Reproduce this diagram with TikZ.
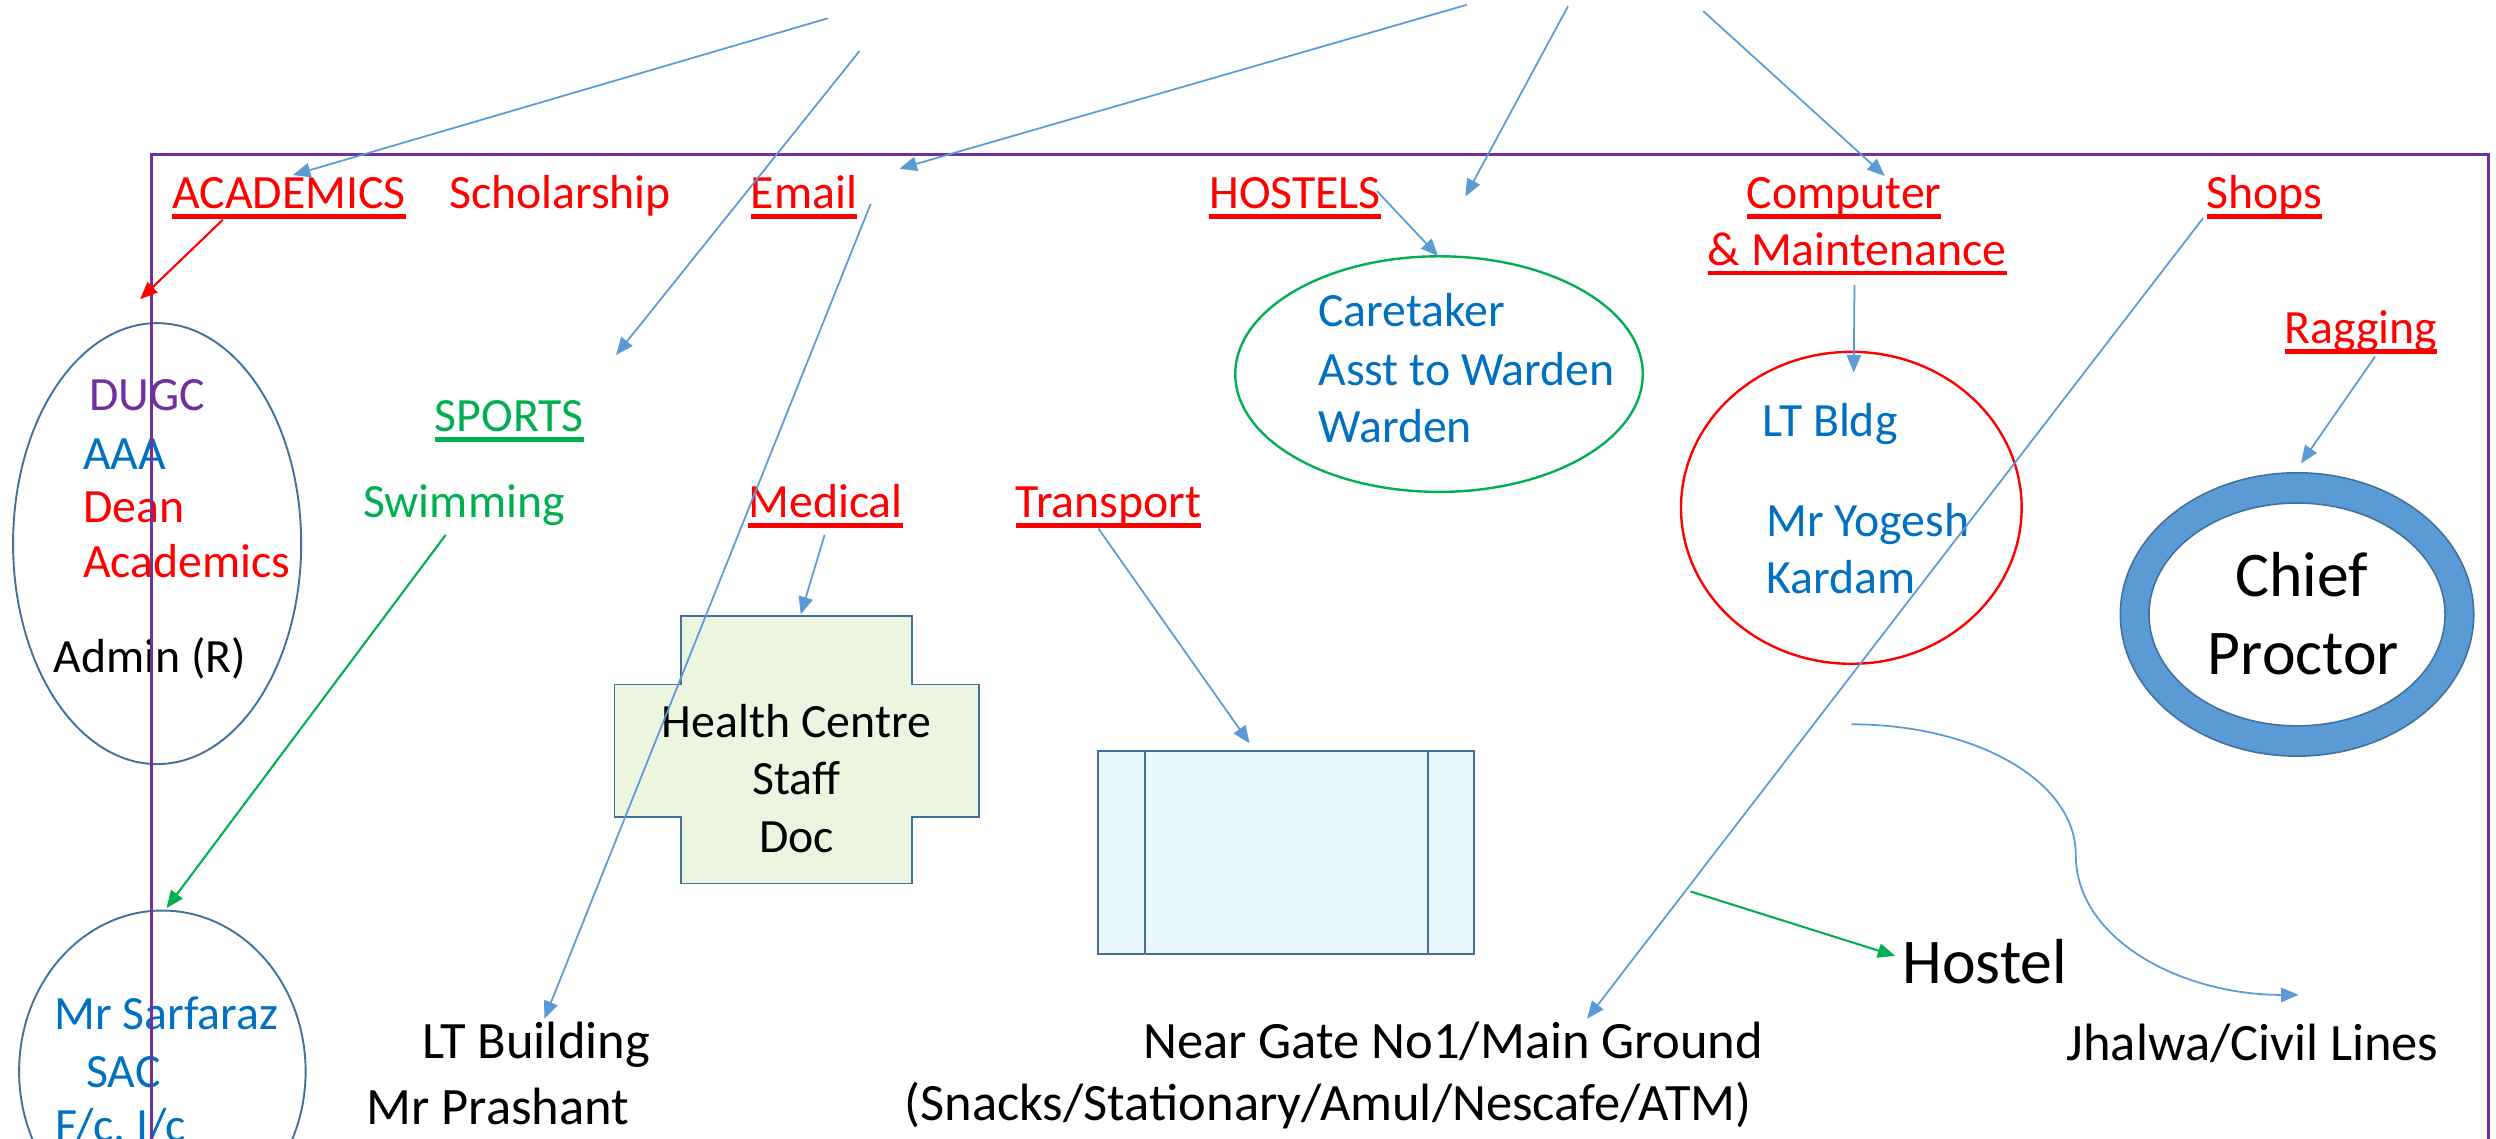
\documentclass[tikz,border=0pt]{standalone}
\usepackage{fontspec}
\setmainfont{Carlito}
\usetikzlibrary{shapes.geometric,arrows.meta}
\definecolor{cred}{HTML}{FF0000}
\definecolor{cblue}{HTML}{0070C0}
\definecolor{cpurple}{HTML}{7030A0}
\definecolor{cgreen}{HTML}{00B050}
\definecolor{carrow}{HTML}{5B9BD5}
\definecolor{cedge}{HTML}{41719C}
\definecolor{ccross}{HTML}{EBF5E0}
\definecolor{crect}{HTML}{EAF8FD}
\newcommand\myul[1]{\setbox0\hbox{#1}\rlap{\rule[-6.5pt]{\wd0}{3pt}}\box0}
\begin{document}
\begin{tikzpicture}[x=1pt,y=-1pt,
  lbl/.style={anchor=base west,inner sep=0pt,font=\fontsize{30}{36}\selectfont},
  lblc/.style={anchor=base,inner sep=0pt,font=\fontsize{30}{36}\selectfont},
  bigl/.style={anchor=base west,inner sep=0pt,font=\fontsize{33}{40}\selectfont},
  hugel/.style={anchor=base,inner sep=0pt,font=\fontsize{40}{48}\selectfont},
  arr/.style={draw=carrow,line width=1.1pt,-{Triangle[length=11pt,width=9pt]}},
  garr/.style={draw=cgreen,line width=1.3pt,-{Triangle[length=11pt,width=9pt]}},
  rarr/.style={draw=cred,line width=1.3pt,-{Triangle[length=11pt,width=9pt]}},
  oval/.style={ellipse,draw=cedge,line width=1.2pt,inner sep=0pt}]
\useasboundingbox (0,0) rectangle (1568,715);
\clip (0,0) rectangle (1568,715);

% ellipses
\node[oval,minimum width=181pt,minimum height=277pt] (acad) at (98.7,341.5) {};
\node[oval,minimum width=180pt,minimum height=202pt] (sac) at (102,673) {};
\node[ellipse,draw=cgreen,line width=1.5pt,inner sep=0pt,minimum width=256pt,minimum height=148pt] (hostel) at (904,235) {};
\node[ellipse,draw=cred,line width=1.5pt,inner sep=0pt,minimum width=214pt,minimum height=196pt] (comp) at (1163,319) {};
\node[ellipse,draw=cedge,fill=carrow,line width=1pt,inner sep=0pt,minimum width=222pt,minimum height=178pt] (cpout) at (1443,386) {};
\node[ellipse,draw=cedge,fill=white,line width=1pt,inner sep=0pt,minimum width=186pt,minimum height=140pt] (cpin) at (1443,386) {};

% health centre cross
\draw[cedge,fill=ccross,line width=1.2pt] (428,387) -- (573,387) -- (573,430) -- (615,430) -- (615,513) -- (573,513) -- (573,555) -- (428,555) -- (428,513) -- (386,513) -- (386,430) -- (428,430) -- cycle;
% transport box
\draw[cedge,fill=crect,line width=1.2pt] (690,471.5) rectangle (926,599.5);
\draw[cedge,line width=1.2pt] (719,471.5) -- (719,599.5) (897,471.5) -- (897,599.5);

% top labels
\node[lbl,text=cred] (acadl) at (108,131) {\myul{ACADEMICS}};
\node[lbl,text=cred] (schol) at (282,131) {Scholarship};
\node[lbl,text=cred] (email) at (471.5,131) {\myul{Email}};
\node[lbl,text=cred] (hostl) at (759.5,131) {\myul{HOSTELS}};
\node[lbl,text=cred] (compl) at (1097,131) {\myul{Computer}};
\node[lbl,text=cred] (maintl) at (1072.6,166.5) {\myul{\& Maintenance}};
\node[lbl,text=cred] (shopsl) at (1386,131) {\myul{Shops}};
\node[lbl,text=cred] (ragl) at (1435,216) {\myul{Ragging}};
\node[lbl,text=cgreen] (sportsl) at (273,271) {\myul{SPORTS}};
\node[lbl,text=cgreen] (swiml) at (228,325) {Swimming};
\node[lbl,text=cred] (medl) at (470,325) {\myul{Medical}};
\node[lbl,text=cred] (transl) at (638,325) {\myul{Transport}};

% academics ellipse text
\node[lbl,text=cpurple] (dugc) at (56,258) {DUGC};
\node[lbl,text=cblue] (aaa) at (52,295) {AAA};
\node[lbl,text=cred] (dean) at (52,328) {Dean};
\node[lbl,text=cred] (acads) at (52,363) {Academics};
\node[lbl,text=black] (admin) at (33.5,422.5) {Admin (R)};

% hostel ellipse text
\node[lbl,text=cblue] (care) at (828,205) {Caretaker};
\node[lbl,text=cblue] (asst) at (828,242) {Asst to Warden};
\node[lbl,text=cblue] (ward) at (828,278) {Warden};

% computer ellipse text
\node[lbl,text=cblue] (ltb) at (1107,274) {LT Bldg};
\node[lbl,text=cblue] (yog) at (1109.5,337) {Mr Yogesh};
\node[lbl,text=cblue] (kar) at (1109.5,372.6) {Kardam};

% health centre text
\node[lblc] (health) at (500.3,463) {Health Centre};
\node[lblc] (staff) at (500.3,499.4) {Staff};
\node[lblc] (doc) at (500.3,535.6) {Doc};

% chief proctor
\node[hugel] (chief) at (1446,375) {Chief};
\node[hugel] (proctor) at (1447,424) {Proctor};

% SAC ellipse text
\node[lbl,text=cblue] (sarf) at (34,647) {Mr Sarfaraz};
\node[lbl,text=cblue] (sacl) at (54,683) {SAC};
\node[lbl,text=cblue] (fcic) at (34.5,717) {F/c, I/c};

% bottom texts
\node[bigl] (ltbuild) at (265,665) {LT Building};
\node[bigl] (prash) at (230,706.5) {Mr Prashant};
\node[bigl] (near) at (718,665) {Near Gate No1/Main Ground};
\node[bigl] (snacks) at (568,704) {(Snacks/Stationary/Amul/Nescafe/ATM)};
\node[anchor=base west,inner sep=0pt,font=\fontsize{40}{48}\selectfont] (hostelt) at (1195,618) {Hostel};
\node[bigl] (jhal) at (1298,666) {Jhalwa/Civil Lines};

% frame
\draw[cpurple,line width=1.8pt] (95,730) -- (95,97) -- (1563,97) -- (1563,730);

% connector end points
\coordinate (t1) at (520,11.5);   \coordinate (h1) at (184,110);
\coordinate (t2) at (540,32);     \coordinate (h2) at (387,223);
\coordinate (t3) at (921.5,3);    \coordinate (h3) at (565,106);
\coordinate (t4) at (985,4);      \coordinate (h4) at (920.5,123.5);
\coordinate (t5) at (1070,7);     \coordinate (h5) at (1184,110.5);
\coordinate (ra) at (140,138);    \coordinate (rb) at (88,188);
\coordinate (ha) at (865,120);    \coordinate (hb) at (903.5,161);
\coordinate (ca) at (1165,179);   \coordinate (cb) at (1164.5,234);
\coordinate (sa) at (1384,137);   \coordinate (sb) at (997,640);
\coordinate (ea) at (547,128);    \coordinate (eb) at (342,640);
\coordinate (ga) at (1492,224);   \coordinate (gb) at (1445.5,291);
\coordinate (ma) at (518,336);    \coordinate (mb) at (503,386);
\coordinate (tra) at (690,332);   \coordinate (trb) at (785,467);
\coordinate (spa) at (280,336);   \coordinate (spb) at (104.6,570.5);
\coordinate (hoa) at (1062,560);  \coordinate (hob) at (1190.6,600.5);
\coordinate (cua) at (1163,455);  \coordinate (cum) at (1304,537); \coordinate (cub) at (1444,625);

% connectors
\draw[arr] (t1) -- (h1);
\draw[arr] (t2) -- (h2);
\draw[arr] (t3) -- (h3);
\draw[arr] (t4) -- (h4);
\draw[arr] (t5) -- (h5);
\draw[rarr] (ra) -- (rb);
\draw[arr] (ha) -- (hb);
\draw[arr] (ca) -- (cb);
\draw[arr] (sa) -- (sb);
\draw[arr] (ea) -- (eb);
\draw[arr] (ga) -- (gb);
\draw[arr] (ma) -- (mb);
\draw[arr] (tra) -- (trb);
\draw[garr] (spa) -- (spb);
\draw[garr] (hoa) -- (hob);
\draw[arr] (cua) .. controls (1240,455) and (1304,490) .. (cum) .. controls (1304,590) and (1370,625) .. (cub);
\end{tikzpicture}
\end{document}
